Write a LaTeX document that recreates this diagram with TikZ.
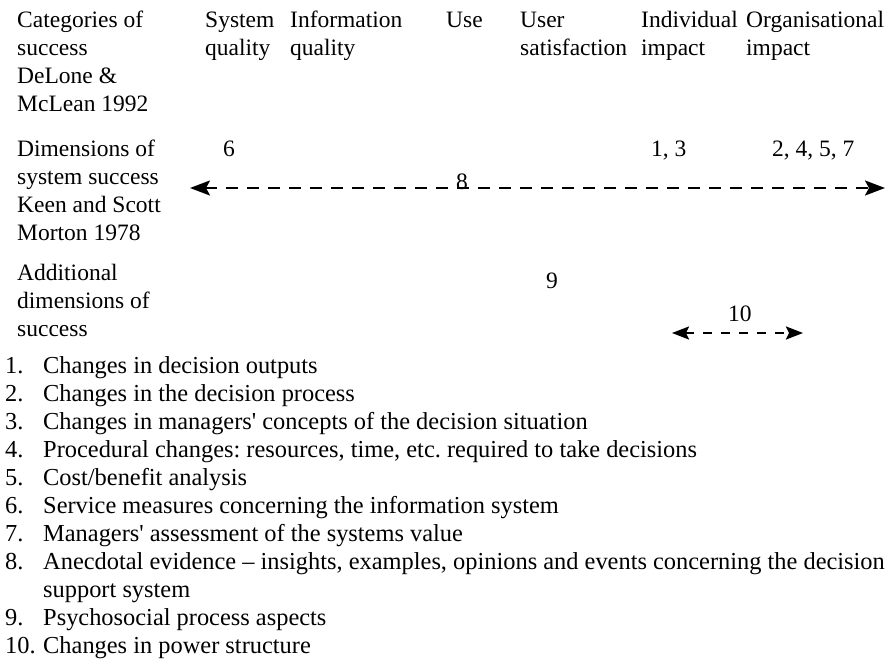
\documentclass[tikz,border=0pt]{standalone}
\usepackage{fontspec}
\setmainfont{Liberation Serif}
\usetikzlibrary{arrows.meta}
\frenchspacing

\begin{document}
\begin{tikzpicture}[x=1pt,y=-1pt,
  txt/.style={anchor=base west, inner sep=0pt, font=\fontsize{23.5}{28}\selectfont},
  keytxt/.style={anchor=base west, inner sep=0pt, font=\fontsize{24.4}{28}\selectfont},
  num/.style={anchor=base west, inner sep=0pt, font=\fontsize{23.5}{28}\selectfont},
  spanarrow/.style={line width=2.4pt, dash pattern=on 12pt off 9pt,
    {Stealth[length=20pt,width=15pt,inset=4pt]}-{Stealth[length=20pt,width=15pt,inset=4pt]}},
  shortarrow/.style={line width=2.2pt, dash pattern=on 9pt off 9pt,
    {Stealth[length=17pt,width=13pt,inset=3pt]}-{Stealth[length=17pt,width=13pt,inset=3pt]}}]
\useasboundingbox (0,0) rectangle (894,664);

% ---- header row: DeLone & McLean categories
\node[txt] (h1a) at (17,27)  {Categories of};
\node[txt] (h1b) at (17,55)  {success};
\node[txt] (h1c) at (17,83)  {DeLone \&};
\node[txt] (h1d) at (17,111) {McLean 1992};

\node[txt] (sysq1) at (205,27) {System};
\node[txt] (sysq2) at (205,55) {quality};
\node[txt] (infq1) at (290,27) {Information};
\node[txt] (infq2) at (290,55) {quality};
\node[txt] (use)   at (446,27) {Use};
\node[txt] (usat1) at (520,27) {User};
\node[txt] (usat2) at (520,55) {satisfaction};
\node[txt] (indi1) at (641,27) {Individual};
\node[txt] (indi2) at (641,55) {impact};
\node[txt] (orgi1) at (746,27) {Organisational};
\node[txt] (orgi2) at (746,55) {impact};

% ---- Keen and Scott Morton dimensions
\node[txt] (k1) at (17,156) {Dimensions of};
\node[txt] (k2) at (17,184) {system success};
\node[txt] (k3) at (17,212) {Keen and Scott};
\node[txt] (k4) at (17,240) {Morton 1978};

\node[num] (n6)    at (223,156) {6};
\node[num] (n13)   at (651,156) {1, 3};
\node[num] (n2457) at (772,156) {2, 4, 5, 7};

\coordinate (s8l) at (190,188);
\coordinate (s8r) at (885,188);
\draw[spanarrow] (s8l) -- (s8r);
\node[num] (n8) at (456,189) {8};

% ---- additional dimensions
\node[txt] (a1) at (17,280) {Additional};
\node[txt] (a2) at (17,308) {dimensions of};
\node[txt] (a3) at (17,336) {success};

\node[num] (n9)  at (546,288) {9};
\node[num] (n10) at (728,321) {10};

\coordinate (s10l) at (672,333);
\coordinate (s10r) at (803,333);
\draw[shortarrow] (s10l) -- (s10r);

% ---- numbered key
\foreach \k/\lab/\t [count=\i from 0] in {
  l1/1./{Changes in decision outputs},
  l2/2./{Changes in the decision process},
  l3/3./{Changes in managers\textquotesingle\ concepts of the decision situation},
  l4/4./{Procedural changes: resources, time, etc. required to take decisions},
  l5/5./{Cost/benefit analysis},
  l6/6./{Service measures concerning the information system},
  l7/7./{Managers\textquotesingle\ assessment of the systems value},
  l8/8./{Anecdotal evidence -- insights, examples, opinions and events concerning the decision},
  l8b//{support system},
  l9/9./{Psychosocial process aspects},
  l10/10./{Changes in power structure}} {
  \node[keytxt] (\k n) at (5,373+28*\i) {\lab};
  \node[keytxt] (\k)   at (43,373+28*\i) {\t};
}
\end{tikzpicture}
\end{document}
